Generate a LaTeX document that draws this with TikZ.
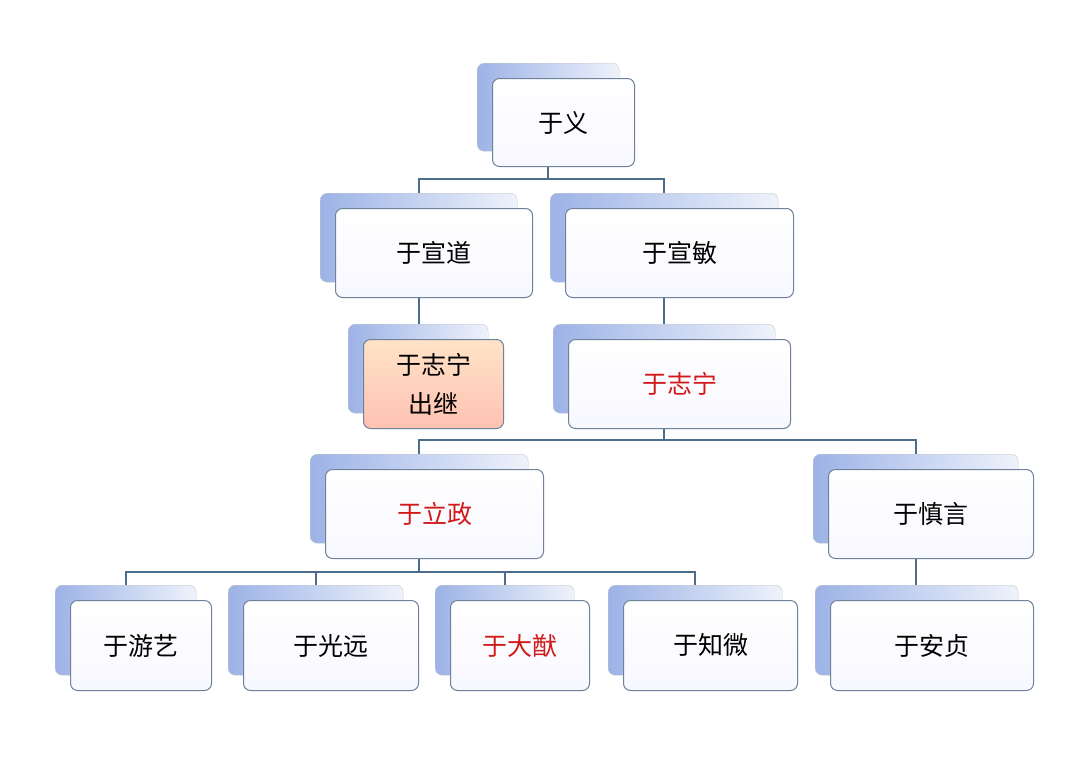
\documentclass[tikz,border=0pt]{standalone}
\usepackage{fontspec}
\usetikzlibrary{backgrounds}
\newfontfamily\cjk{Noto Sans CJK SC}
\definecolor{lnk}{HTML}{4A6E8C}
\definecolor{bord}{HTML}{6F829A}
\definecolor{bkl}{HTML}{9DB3E6}
\definecolor{bkr}{HTML}{EEF2FB}
\definecolor{redt}{HTML}{D01A1A}
\begin{document}
\begin{tikzpicture}[x=1pt,y=-1pt,
  backbox/.style={draw=black!22,rounded corners=7pt,left color=bkl,right color=bkr,anchor=north west},
  frontbox/.style={draw=bord,line width=1pt,rounded corners=7pt,top color=white,bottom color=blue!3,anchor=north west,font=\cjk\fontsize{25}{30}\selectfont,align=center,inner sep=0pt},
  link/.style={draw=lnk,line width=1.6pt}]
\useasboundingbox (0,0) rectangle (1080,764);
\newcommand\pairbox[7]{%
 \node[backbox,minimum width=#4-#2,minimum height=#5-#3] (b#1) at (#2-15,#3-15) {};
 \node[frontbox,minimum width=#4-#2,minimum height=#5-#3,#6] (#1) at (#2,#3) {#7};}
\pairbox{yi}{492}{78}{634}{166}{}{于义}
\pairbox{xd}{335}{208}{532}{297}{}{于宣道}
\pairbox{xm}{565}{208}{793}{297}{}{于宣敏}
\pairbox{zn1}{363}{339}{503}{428}{top color=orange!22,bottom color=orange!40!red!30!white}{于志宁\\[9pt]出继}
\pairbox{zn}{568}{339}{790}{428}{text=redt}{于志宁}
\pairbox{lz}{325}{469}{543}{558}{text=redt}{于立政}
\pairbox{sy}{828}{469}{1033}{558}{}{于慎言}
\pairbox{yy}{70}{600}{211}{690}{}{于游艺}
\pairbox{gy}{243}{600}{418}{690}{}{于光远}
\pairbox{dy}{450}{600}{589}{690}{text=redt}{于大猷}
\pairbox{zw}{623}{600}{797}{690}{}{于知微}
\pairbox{az}{830}{600}{1033}{690}{}{于安贞}
\coordinate (j1) at (0,179);
\coordinate (j2) at (0,440);
\coordinate (j3) at (0,572);
\begin{scope}[on background layer]
\fill[white] (0,0) rectangle (1080,764);
\draw[link] (byi.south) -- (byi.south |- j1) -| (bxd.north);
\draw[link] (byi.south |- j1) -| (bxm.north);
\draw[link] (bxd.south) -- (bxd.south |- bzn1.north);
\draw[link] (bxm.south) -- (bxm.south |- bzn.north);
\draw[link] (bzn.south) -- (bzn.south |- j2) -| (blz.north);
\draw[link] (bzn.south |- j2) -| (bsy.north);
\draw[link] (blz.south) -- (blz.south |- j3) -| (byy.north);
\draw[link] (blz.south |- j3) -| (bgy.north);
\draw[link] (blz.south |- j3) -| (bdy.north);
\draw[link] (blz.south |- j3) -| (bzw.north);
\draw[link] (bsy.south) -- (bsy.south |- baz.north);
\end{scope}
\end{tikzpicture}
\end{document}
